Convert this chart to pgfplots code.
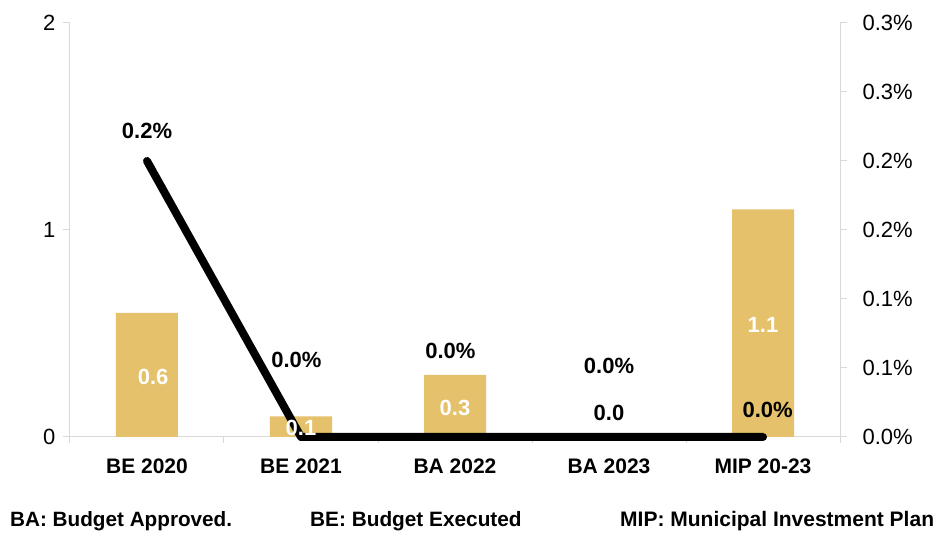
\documentclass[border=0pt]{standalone}
\usepackage{fontspec}
\setmainfont{Liberation Sans}
\usepackage{pgfplots}
\pgfplotsset{compat=1.18}
\definecolor{gold}{RGB}{228,193,106}
\definecolor{axgray}{RGB}{217,217,217}
\begin{document}
\begin{tikzpicture}[x=1pt,y=1pt]
\path[use as bounding box] (-70,-96) rectangle (868,437);
\begin{axis}[
  at={(0,0)}, anchor=south west,
  width=770pt, height=414pt, scale only axis,
  xmin=-0.5, xmax=4.5, ymin=0, ymax=2,
  axis x line*=bottom, axis y line*=left,
  axis line style={axgray, line width=1pt},
  ytick={0,1,2},
  xtick={0,1,2,3,4},
  xticklabels={BE 2020,BE 2021,BA 2022,BA 2023,MIP 20-23},
  major x tick style={draw=none},
  minor xtick={-0.5,0.5,1.5,2.5,3.5,4.5},
  minor tick length=6pt,
  major tick length=7pt,
  tick align=outside,
  every tick/.style={axgray, line width=1pt},
  /pgf/number format/assume math mode=true,
  yticklabel style={font=\fontsize{22}{22}\selectfont, xshift=-4pt},
  xticklabel style={font=\bfseries\fontsize{21}{21}\selectfont, yshift=-11pt},
  ybar, bar width=62pt,
  clip=false,
]
\addplot[fill=gold, draw=none] coordinates {(0,0.6)(1,0.1)(2,0.3)(3,0.0)(4,1.1)};
\end{axis}
\begin{axis}[
  at={(0,0)}, anchor=south west,
  width=770pt, height=414pt, scale only axis,
  xmin=-0.5, xmax=4.5, ymin=0, ymax=0.3,
  axis y line*=right, axis x line=none,
  axis line style={axgray, line width=1pt},
  ytick={0,0.05,0.1,0.15,0.2,0.25,0.3},
  yticklabels={0.0\%,0.1\%,0.1\%,0.2\%,0.2\%,0.3\%,0.3\%},
  major tick length=7pt,
  tick align=outside,
  every tick/.style={axgray, line width=1pt},
  yticklabel style={font=\fontsize{22}{22}\selectfont, xshift=12pt},
  clip=false,
]
\addplot[black, line width=8pt, line cap=round, line join=round] coordinates {(0,0.2)(1,0)(2,0)(3,0)(4,0)};
% line labels
\node[font=\bfseries\fontsize{22}{22}\selectfont] at (axis cs:0.0,0.2217) {0.2\%};
\node[font=\bfseries\fontsize{22}{22}\selectfont] at (axis cs:0.97,0.0558) {0.0\%};
\node[font=\bfseries\fontsize{22}{22}\selectfont] at (axis cs:1.97,0.0623) {0.0\%};
\node[font=\bfseries\fontsize{22}{22}\selectfont] at (axis cs:3.0,0.0514) {0.0\%};
\node[font=\bfseries\fontsize{22}{22}\selectfont] at (axis cs:4.03,0.0196) {0.0\%};
% bar labels
\node[white, font=\bfseries\fontsize{22}{22}\selectfont] at (axis cs:0.04,0.0435) {0.6};
\node[white, font=\bfseries\fontsize{22}{22}\selectfont] at (axis cs:1.0,0.0065) {0.1};
\node[white, font=\bfseries\fontsize{22}{22}\selectfont] at (axis cs:2.0,0.021) {0.3};
\node[black, font=\bfseries\fontsize{22}{22}\selectfont] at (axis cs:3.0,0.0174) {0.0};
\node[white, font=\bfseries\fontsize{22}{22}\selectfont] at (axis cs:4.0,0.0812) {1.1};
\end{axis}
\node[anchor=base west, font=\bfseries\fontsize{20.7}{20.7}\selectfont, inner sep=0pt] at (-60,-90) {BA: Budget Approved.};
\node[anchor=base west, font=\bfseries\fontsize{20.8}{20.8}\selectfont, inner sep=0pt] at (240,-90) {BE: Budget Executed};
\node[anchor=base west, font=\bfseries\fontsize{21}{21}\selectfont, inner sep=0pt] at (550,-90) {MIP: Municipal Investment Plan};
\end{tikzpicture}
\end{document}
